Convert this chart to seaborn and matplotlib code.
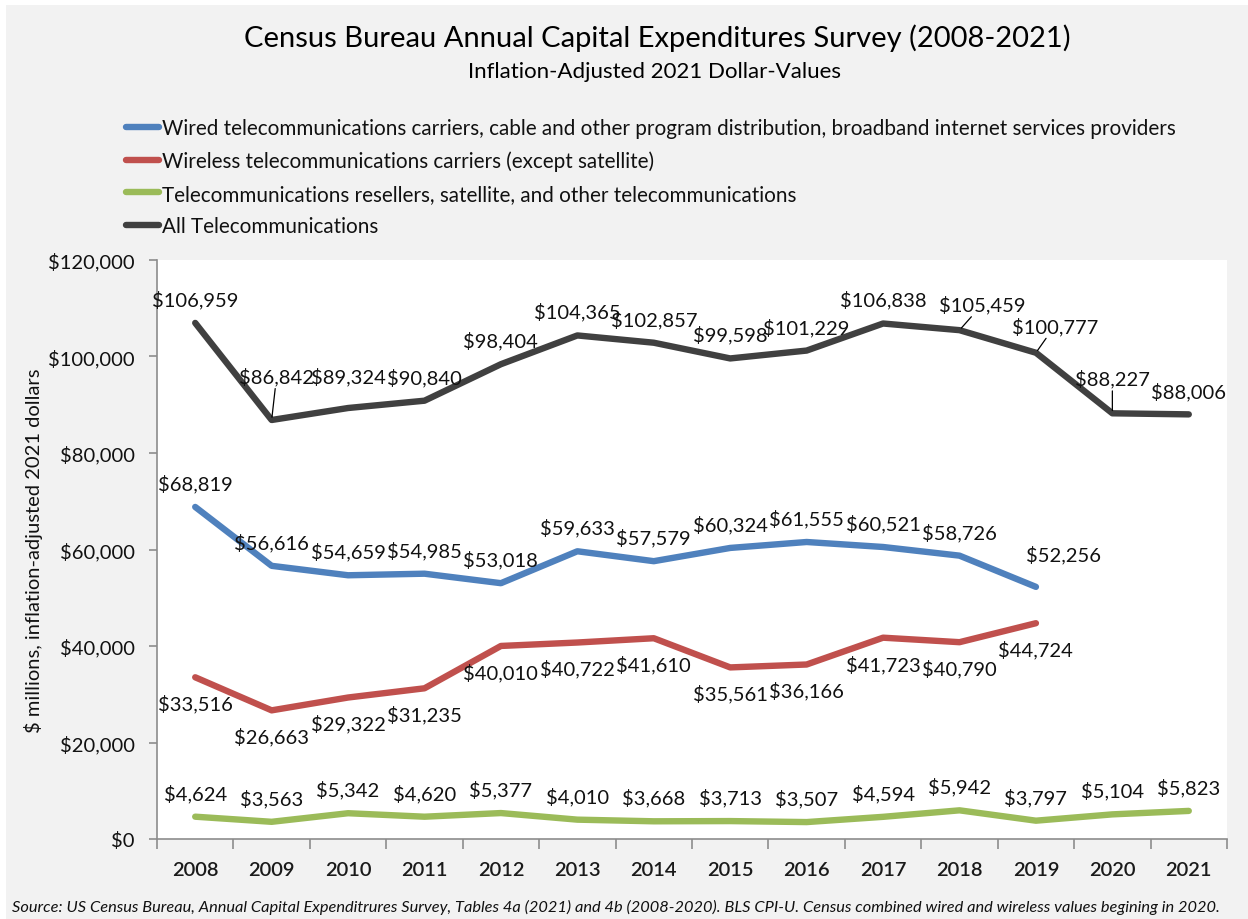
import matplotlib
matplotlib.use("Agg")
import matplotlib.pyplot as plt
import matplotlib.patches as mpatches
from matplotlib.ticker import FuncFormatter, FixedLocator
import numpy as np
import pandas as pd
import seaborn as sns

# ---- data ($ millions, inflation-adjusted 2021 dollars) ----
years = ["2008", "2009", "2010", "2011", "2012", "2013", "2014",
         "2015", "2016", "2017", "2018", "2019", "2020", "2021"]
wired = [68819, 56616, 54659, 54985, 53018, 59633, 57579,
         60324, 61555, 60521, 58726, 52256, None, None]
wireless = [33516, 26663, 29322, 31235, 40010, 40722, 41610,
            35561, 36166, 41723, 40790, 44724, None, None]
resellers = [4624, 3563, 5342, 4620, 5377, 4010, 3668,
             3713, 3507, 4594, 5942, 3797, 5104, 5823]
all_telecom = [106959, 86842, 89324, 90840, 98404, 104365, 102857,
               99598, 101229, 106838, 105459, 100777, 88227, 88006]

series_names = [
    "Wired telecommunications carriers, cable and other program distribution, broadband internet services providers",
    "Wireless telecommunications carriers (except satellite)",
    "Telecommunications resellers, satellite, and other telecommunications",
    "All Telecommunications",
]
series_values = [wired, wireless, resellers, all_telecom]
colors = ["#4f81bd", "#c0504d", "#9bbb59", "#404040"]

title = "Census Bureau Annual Capital Expenditures Survey (2008-2021)"
subtitle = "Inflation-Adjusted 2021 Dollar-Values"
ylabel = "$ millions, inflation-adjusted 2021 dollars"
source = ("Source: US Census Bureau, Annual Capital Expenditrures Survey, Tables 4a (2021) and 4b (2008-2020). "
          "BLS CPI-U. Census combined wired and wireless values begining in 2020.")

# label placement (pixel offsets from each point: dx, dy upward)
default_dy = [24, -26, 24, 24]
label_adjust = {
    (0, 11): (28, 33),
    (3, 1): (5, 44, True),
    (3, 2): (0, 32),
    (3, 10): (23, 26, True),
    (3, 11): (19, 27, True),
    (3, 12): (0, 35, True),
    (3, 13): (0, 23),
}

rows = []
for name, vals in zip(series_names, series_values):
    for i, v in enumerate(vals):
        rows.append({"pos": i, "value": np.nan if v is None else v, "series": name})
df = pd.DataFrame(rows)

sns.set_theme(style="white")
FONT = ["Lato", "DejaVu Sans"]
plt.rcParams["font.family"] = FONT

W, H = 1248, 920
fig = plt.figure(figsize=(W / 100, H / 100), dpi=100, facecolor="white")
# grey chart area
fig.patches.append(mpatches.Rectangle((6 / W, 0), 1 - 6 / W, 1 - 6 / H,
                                      transform=fig.transFigure,
                                      facecolor="#f2f2f2", edgecolor="none", zorder=-10))

ax = fig.add_axes([157 / W, 1 - 840 / H, (1227 - 157) / W, (840 - 261) / H])
ax.set_zorder(2)
ax.set_facecolor("white")

palette = dict(zip(series_names, colors))
sns.lineplot(data=df, x="pos", y="value", hue="series", hue_order=series_names,
             palette=palette, linewidth=4.6, legend=False, ax=ax, sort=False,
             estimator=None)
for ln in ax.get_lines():
    ln.set_solid_capstyle("round")
    ln.set_solid_joinstyle("round")

ax.set_xlim(-0.5, len(years) - 0.5)
ax.set_ylim(0, 120000)
ax.set_yticks(np.arange(0, 120001, 20000))
ax.yaxis.set_major_formatter(FuncFormatter(lambda v, p: f"${v:,.0f}"))
ax.set_xticks(range(len(years)))
ax.set_xticklabels(years, fontsize=14.5, fontweight="semibold", color="#1a1a1a")
ax.xaxis.set_minor_locator(FixedLocator(np.arange(-0.5, len(years), 1)))
ax.tick_params(axis="x", which="major", length=0, pad=16)
ax.tick_params(axis="x", which="minor", length=7, width=1.2, color="#8c8c8c",
               direction="out", bottom=True)
ax.tick_params(axis="y", which="major", length=6, width=1.2, color="#8c8c8c",
               direction="out", labelsize=14.5, labelcolor="#111111", pad=10, left=True)
for side in ["top", "right"]:
    ax.spines[side].set_visible(False)
for side in ["left", "bottom"]:
    ax.spines[side].set_color("#8c8c8c")
    ax.spines[side].set_linewidth(1.2)
ax.set_xlabel("")
ax.set_ylabel(ylabel, fontsize=14.5, color="#111111")
ax.yaxis.set_label_coords(-0.107, 0.5)

# value labels
for s, vals in enumerate(series_values):
    for i, v in enumerate(vals):
        if v is None:
            continue
        adj = label_adjust.get((s, i))
        dx, dy, leader = 0, default_dy[s], False
        if adj is not None:
            dx, dy = adj[0], adj[1]
            leader = len(adj) > 2
        kw = {}
        if leader:
            kw["arrowprops"] = dict(arrowstyle="-", color="black", lw=0.9,
                                    shrinkA=0, shrinkB=2)
        ax.annotate(f"${v:,.0f}", xy=(i, v), xytext=(dx, dy),
                    textcoords="offset pixels", ha="center", va="center",
                    fontsize=14.5, color="#111111", zorder=5, **kw)

# titles
fig.text(657 / W, 1 - 38 / H, title, ha="center", va="center", fontsize=21, color="black")
fig.text(655 / W, 1 - 72 / H, subtitle, ha="center", va="center", fontsize=16, color="black")

# legend
handles = [plt.Line2D([], [], color=c, lw=4.6, solid_capstyle="round") for c in colors]
leg = fig.legend(handles, series_names, loc="upper left",
                 bbox_to_anchor=(118 / W, 1 - 111 / H), frameon=False,
                 fontsize=14.9, handlelength=1.6, handletextpad=0.15,
                 labelspacing=0.6, borderaxespad=0)
for t in leg.get_texts():
    t.set_color("#111111")

fig.text(12 / W, 1 - 907 / H, source, ha="left", va="center", fontsize=11.8,
         style="italic", color="#111111")

fig.savefig("out.png", dpi=100, facecolor=fig.get_facecolor())
